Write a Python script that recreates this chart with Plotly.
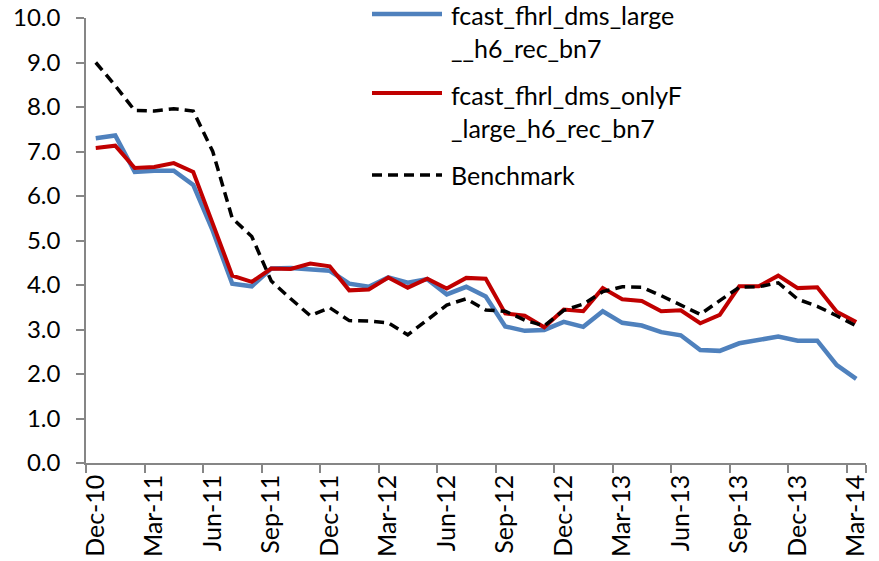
"""Forecast error comparison: two fhrl dms models against the benchmark."""

import plotly.graph_objects as go

MONTHS = [
    "Dec-10", "Jan-11", "Feb-11", "Mar-11", "Apr-11", "May-11", "Jun-11",
    "Jul-11", "Aug-11", "Sep-11", "Oct-11", "Nov-11", "Dec-11", "Jan-12",
    "Feb-12", "Mar-12", "Apr-12", "May-12", "Jun-12", "Jul-12", "Aug-12",
    "Sep-12", "Oct-12", "Nov-12", "Dec-12", "Jan-13", "Feb-13", "Mar-13",
    "Apr-13", "May-13", "Jun-13", "Jul-13", "Aug-13", "Sep-13", "Oct-13",
    "Nov-13", "Dec-13", "Jan-14", "Feb-14", "Mar-14",
]
TICK_LABELS = [
    "Dec-10", "Mar-11", "Jun-11", "Sep-11", "Dec-11", "Mar-12", "Jun-12",
    "Sep-12", "Dec-12", "Mar-13", "Jun-13", "Sep-13", "Dec-13", "Mar-14",
]

LARGE = [
    7.30, 7.36, 6.54, 6.57, 6.57, 6.25, 5.22, 4.03, 3.97, 4.37,
    4.38, 4.34, 4.32, 4.03, 3.96, 4.17, 4.05, 4.13, 3.79, 3.96,
    3.74, 3.07, 2.97, 2.99, 3.17, 3.06, 3.41, 3.15, 3.09, 2.94,
    2.87, 2.54, 2.52, 2.69, 2.77, 2.84, 2.75, 2.75, 2.20, 1.89,
]
ONLY_F = [
    7.08, 7.13, 6.63, 6.65, 6.74, 6.54, 5.38, 4.21, 4.07, 4.37,
    4.36, 4.48, 4.42, 3.88, 3.90, 4.17, 3.94, 4.14, 3.92, 4.16,
    4.14, 3.36, 3.31, 3.05, 3.45, 3.41, 3.93, 3.68, 3.64, 3.41,
    3.43, 3.14, 3.33, 3.97, 3.97, 4.21, 3.93, 3.95, 3.40, 3.17,
]
BENCHMARK = [
    9.00, 8.48, 7.92, 7.91, 7.96, 7.91, 7.00, 5.50, 5.09, 4.09,
    3.69, 3.31, 3.49, 3.20, 3.19, 3.15, 2.88, 3.22, 3.55, 3.69,
    3.44, 3.41, 3.21, 3.08, 3.43, 3.57, 3.85, 3.96, 3.95, 3.76,
    3.55, 3.34, 3.65, 3.95, 3.96, 4.05, 3.68, 3.52, 3.31, 3.08,
]

SERIES_NAMES = [
    "fcast_fhrl_dms_large<br>__h6_rec_bn7",
    "fcast_fhrl_dms_onlyF<br>_large_h6_rec_bn7",
    "Benchmark",
]

FONT = "Lato"
AXIS_GREY = "#868686"
MARGIN = dict(l=86, r=13, t=18, b=98)
BLUE_LINE = dict(color="#4F81BD", width=4.5)
RED_LINE = dict(color="#C00000", width=4)
DASH_LINE = dict(color="#000000", width=3.5, dash="10px,6px")

fig = go.Figure()
fig.add_trace(go.Scatter(
    x=MONTHS, y=LARGE, mode="lines", name=SERIES_NAMES[0], line=BLUE_LINE,
))
fig.add_trace(go.Scatter(
    x=MONTHS, y=ONLY_F, mode="lines", name=SERIES_NAMES[1], line=RED_LINE,
))
fig.add_trace(go.Scatter(
    x=MONTHS, y=BENCHMARK, mode="lines", name=SERIES_NAMES[2], line=DASH_LINE,
))

fig.update_layout(
    width=879,
    height=561,
    paper_bgcolor="white",
    plot_bgcolor="white",
    showlegend=False,
    font=dict(family=FONT, size=24, color="black"),
    margin=MARGIN,
)
fig.update_xaxes(
    type="category",
    range=[-0.5, len(MONTHS) - 0.5],
    tickmode="array",
    tickvals=TICK_LABELS,
    ticktext=TICK_LABELS,
    tickson="boundaries",
    tickangle=-90,
    tickfont=dict(size=25),
    ticks="outside",
    ticklen=8,
    tickcolor=AXIS_GREY,
    tickwidth=1.5,
    showline=True,
    linecolor=AXIS_GREY,
    linewidth=1.5,
    showgrid=False,
    zeroline=False,
    automargin=False,
)
fig.update_yaxes(
    range=[0, 10],
    tickmode="array",
    tickvals=list(range(0, 11)),
    tickformat=".1f",
    tickfont=dict(size=24),
    ticks="outside",
    ticklen=8,
    tickcolor=AXIS_GREY,
    tickwidth=1.5,
    ticklabelstandoff=11,
    showline=True,
    linecolor=AXIS_GREY,
    linewidth=1.5,
    showgrid=False,
    zeroline=False,
    automargin=False,
)

# hand-drawn legend so the line samples match the long Excel swatches
plot_w = 879 - MARGIN["l"] - MARGIN["r"]
plot_h = 561 - MARGIN["t"] - MARGIN["b"]


def _px(x, y):
    return (x - MARGIN["l"]) / plot_w, (561 - MARGIN["b"] - y) / plot_h


legend_rows = [
    (14, [15, 48], BLUE_LINE),
    (93, [95, 128], RED_LINE),
    (175, [175], DASH_LINE),
]
for trace_idx, (line_y, text_ys, style) in enumerate(legend_rows):
    x0, y0 = _px(372, line_y)
    x1, _ = _px(442, line_y)
    fig.add_shape(type="line", xref="paper", yref="paper",
                  x0=x0, x1=x1, y0=y0, y1=y0, line=style)
    parts = SERIES_NAMES[trace_idx].split("<br>")
    for part, ty in zip(parts, text_ys):
        tx, tyy = _px(449, ty)
        fig.add_annotation(
            xref="paper", yref="paper", x=tx, y=tyy, text=part,
            showarrow=False, xanchor="left", yanchor="middle",
            font=dict(family=FONT, size=25, color="black"),
        )

# the page body has a default 8px margin; drop it so the figure sits at 0,0
fig.write_html(
    "out.html",
    config={"displayModeBar": False},
    post_script="document.body.style.margin = '0';",
)
